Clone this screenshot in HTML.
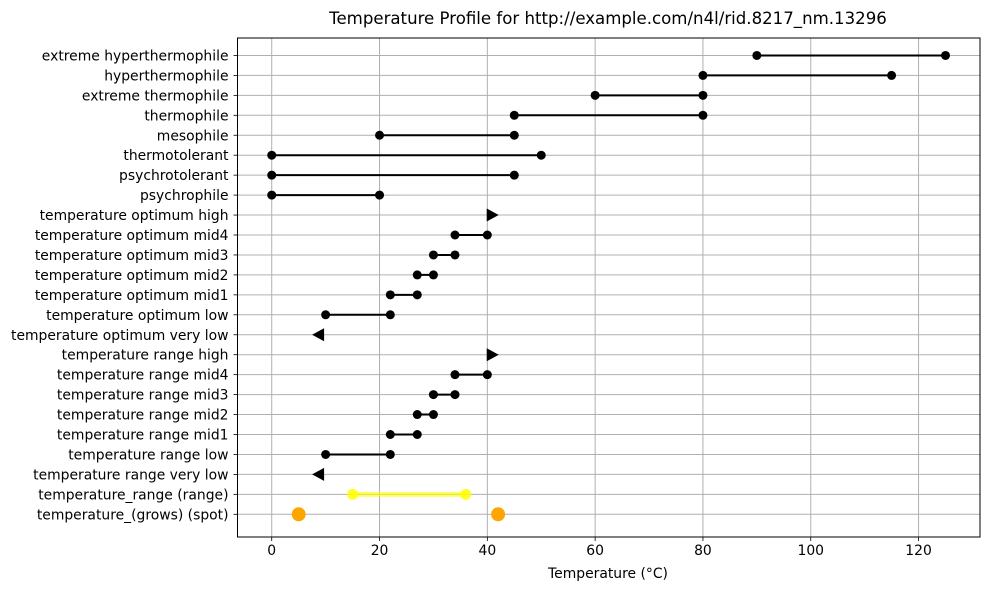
<!DOCTYPE html>
<html><head><meta charset="utf-8"><style>
body{margin:0;background:#fff;}
svg text{font-family:"DejaVu Sans","Liberation Sans",sans-serif;}
</style></head><body>
<svg id="chart" width="989" height="590" xmlns="http://www.w3.org/2000/svg">
<text x="608" y="24" font-size="16.6" text-anchor="middle">Temperature Profile for http://example.com/n4l/rid.8217_nm.13296</text>
<g id="grid"></g>
<g id="marks"></g>
<g id="axes"></g>
<text x="608" y="578" font-size="13.9" text-anchor="middle">Temperature (°C)</text>
</svg>
<script>
const categories = ["temperature_(grows) (spot)","temperature_range (range)","temperature range very low","temperature range low","temperature range mid1","temperature range mid2","temperature range mid3","temperature range mid4","temperature range high","temperature optimum very low","temperature optimum low","temperature optimum mid1","temperature optimum mid2","temperature optimum mid3","temperature optimum mid4","temperature optimum high","psychrophile","psychrotolerant","thermotolerant","mesophile","thermophile","extreme thermophile","hyperthermophile","extreme hyperthermophile"];
// type: spot, range, left, right, seg
const types = ["spot","range","left","seg","seg","seg","seg","seg","right","left","seg","seg","seg","seg","seg","right","seg","seg","seg","seg","seg","seg","seg","seg"];
const lowVals = [5,15,8.6,10,22,27,30,34,41,8.6,10,22,27,30,34,41,0,0,0,20,45,60,80,90];
const highVals = [42,36,null,22,27,30,34,40,null,null,22,27,30,34,40,null,20,45,50,45,80,80,115,125];
const xTicks = [0,20,40,60,80,100,120];

const L=237.5,R=980,T=38,B=537;
const xMin=-6.35,xMax=131.4;
const X=v=>L+(v-xMin)/(xMax-xMin)*(R-L);
const Y=i=>514.3-i*19.95;
const NS="http://www.w3.org/2000/svg";
function mk(tag,attrs,parent,text){const e=document.createElementNS(NS,tag);for(const k in attrs)e.setAttribute(k,attrs[k]);if(text!==undefined)e.textContent=text;parent.appendChild(e);return e;}
const grid=document.getElementById('grid'),marks=document.getElementById('marks'),axes=document.getElementById('axes');
xTicks.forEach(t=>{
  const g=mk('line',{x1:X(t),x2:X(t),y1:T,y2:B,stroke:'#b0b0b0','stroke-width':1},grid);
  
  
  mk('line',{x1:X(t),x2:X(t),y1:B,y2:B+4,stroke:'#000','stroke-width':0.8},axes);
  const tx=mk('text',{x:X(t),y:B+18,'font-size':13.9,'text-anchor':'middle'},axes,String(t));
  
  
});
categories.forEach((c,i)=>{
  const y=Y(i);
  const g=mk('line',{x1:L,x2:R,y1:y,y2:y,stroke:'#b0b0b0','stroke-width':1},grid);
  
  
  mk('line',{x1:L-4,x2:L,y1:y,y2:y,stroke:'#000','stroke-width':0.8},axes);
  const tx=mk('text',{x:L-9,y:y+5,'font-size':13.9,'text-anchor':'end'},axes,c);
  
  
  const t=types[i],lo=lowVals[i],hi=highVals[i];
  const grp=mk('g',{},marks);
  
  
  if(t==='seg'){
    mk('line',{x1:X(lo),x2:X(hi),y1:y,y2:y,stroke:'#000','stroke-width':2},grp);
    mk('circle',{cx:X(lo),cy:y,r:4.5,fill:'#000'},grp);
    mk('circle',{cx:X(hi),cy:y,r:4.5,fill:'#000'},grp);
  }else if(t==='range'){
    mk('line',{x1:X(lo),x2:X(hi),y1:y,y2:y,stroke:'#ffff00','stroke-width':5,opacity:0.6},grp);
    mk('circle',{cx:X(lo),cy:y,r:5.5,fill:'#ffff00',opacity:0.85},grp);
    mk('circle',{cx:X(hi),cy:y,r:5.5,fill:'#ffff00',opacity:0.85},grp);
  }else if(t==='spot'){
    mk('circle',{cx:X(lo),cy:y,r:7,fill:'#ffa500'},grp);
    mk('circle',{cx:X(hi),cy:y,r:7,fill:'#ffa500'},grp);
  }else if(t==='left'){
    const x=X(lo);
    mk('polygon',{points:`${x-6},${y} ${x+6},${y-6.5} ${x+6},${y+6.5}`,fill:'#000'},grp);
  }else if(t==='right'){
    const x=X(lo);
    mk('polygon',{points:`${x+6},${y} ${x-6},${y-6.5} ${x-6},${y+6.5}`,fill:'#000'},grp);
  }
});
const fr=mk('rect',{x:L,y:T,width:R-L,height:B-T,fill:'none',stroke:'#000','stroke-width':1},axes);


</script>
</body></html>
